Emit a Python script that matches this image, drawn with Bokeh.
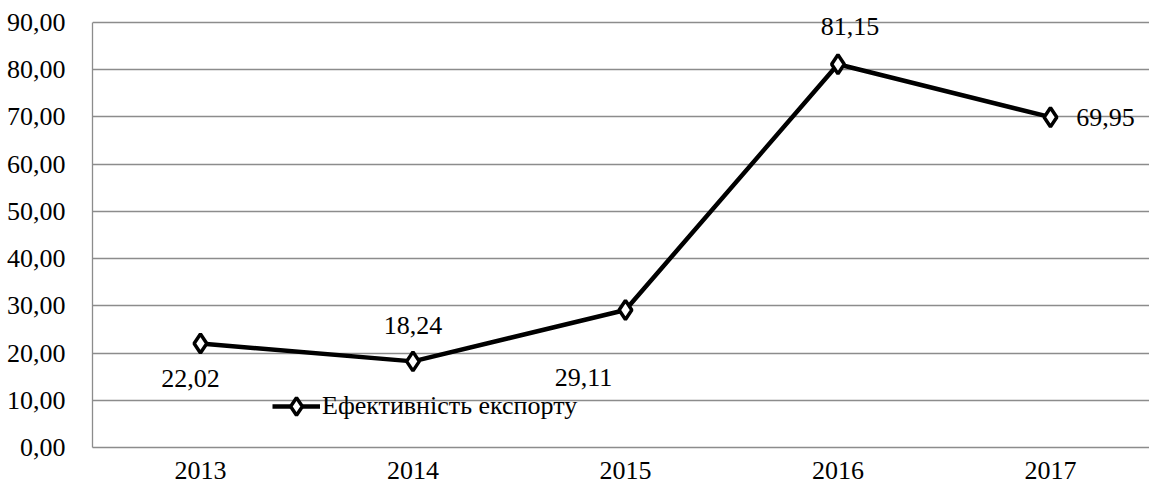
from bokeh.plotting import figure
from bokeh.models import ColumnDataSource, Range1d, FixedTicker, Legend, LegendItem, LabelSet
from bokeh.embed import file_html
from bokeh.resources import INLINE

years = ["2013", "2014", "2015", "2016", "2017"]
values = [22.02, 18.24, 29.11, 81.15, 69.95]
labels = ["22,02", "18,24", "29,11", "81,15", "69,95"]
label_dx = [-10, 0, -42, 12, 55]
label_dy = [-35, 36, -67, 38, 0]
y_ticks = [0, 10, 20, 30, 40, 50, 60, 70, 80, 90]
series_name = "Ефективність експорту"

FONT = "Liberation Serif"
GRID = "#8c8c8c"

idx = list(range(len(years)))
src = ColumnDataSource(dict(x=idx, y=values, lab=labels, dx=label_dx, dy=label_dy))

p = figure(width=1149, height=490, output_backend="svg", toolbar_location=None,
           x_range=Range1d(-0.508, 4.466), y_range=Range1d(0, 92.33),
           min_border_left=92, min_border_right=0, min_border_top=11, min_border_bottom=43)
p.outline_line_color = None
p.background_fill_color = "white"

p.xgrid.grid_line_color = None
p.ygrid.grid_line_color = GRID
p.ygrid.grid_line_width = 1.3
p.ygrid.ticker = FixedTicker(ticks=y_ticks)

p.yaxis.ticker = FixedTicker(ticks=y_ticks)
p.yaxis.bounds = (0, 90)
p.yaxis.major_label_overrides = {t: f"{t:.2f}".replace(".", ",") for t in y_ticks}
p.xaxis.ticker = FixedTicker(ticks=idx)
p.xaxis.major_label_overrides = {i: y for i, y in zip(idx, years)}
for ax in (p.xaxis, p.yaxis):
    ax.axis_line_color = GRID
    ax.axis_line_width = 1.3
    ax.major_tick_line_color = None
    ax.minor_tick_line_color = None
    ax.major_label_text_font = FONT
    ax.major_label_text_font_size = "26px"
    ax.major_label_text_color = "black"
p.yaxis.major_label_standoff = 21
p.xaxis.major_label_standoff = 8

line = p.line("x", "y", source=src, line_color="black", line_width=4.5)
mk = p.scatter("x", "y", source=src, marker="diamond", size=19, fill_color="white",
               line_color="black", line_width=3.5)

lbls = LabelSet(x="x", y="y", text="lab", source=src, x_offset="dx", y_offset="dy",
                text_align="center", text_baseline="middle", text_font=FONT,
                text_font_size="26px", text_color="black")
p.add_layout(lbls)

legend = Legend(items=[LegendItem(label=series_name, renderers=[line, mk])],
                location=(180, 19), orientation="horizontal",
                background_fill_alpha=0, border_line_color=None,
                padding=0, margin=0, glyph_width=48, glyph_height=44,
                label_standoff=2, label_text_font=FONT, label_text_font_size="26px",
                label_text_color="black")
p.add_layout(legend)

open("out.html", "w").write(file_html(p, INLINE))
